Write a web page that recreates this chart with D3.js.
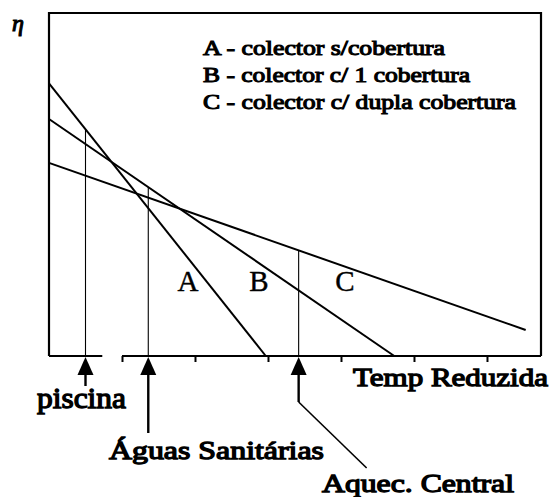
<!DOCTYPE html>
<html>
<head>
<meta charset="utf-8">
<script src="https://cdn.jsdelivr.net/npm/d3@7"></script>
<style>
  html, body { margin: 0; padding: 0; background: #fff; }
  svg { display: block; }
</style>
</head>
<body>
<svg id="chart" width="551" height="497"></svg>
<script>
// Collector efficiency lines: η against reduced temperature
const collectors = ["A", "B", "C"];
const legendLabels = [
  "A - colector s/cobertura",
  "B - colector c/ 1 cobertura",
  "C - colector c/ dupla cobertura"
];
const etaStart = [0.795, 0.691, 0.563];   // η at reduced temperature 0
const tempEnd = [2.97, 4.73, 6.53];       // reduced temperature where each line stops
const etaEnd = [0, 0, 0.076];             // η at that end point

// Typical applications marked on the temperature axis
const applications = ["piscina", "Águas Sanitárias", "Aquec. Central"];
const applicationTemp = [0.50, 1.36, 3.42];
const applicationCollector = [0, 1, 2];   // line each marker reaches up to

const axisTicks = [1, 2, 3, 4, 5, 6];
const axisSegments = [[0, 0.73], [1, 6.74]];   // the axis line is broken between these
const xLabel = "Temp Reduzida";
const yLabel = "η";

const serif = "'Liberation Serif', 'Times New Roman', serif";

// heavy serif text: regular face thickened with an outline stroke
function heavy(sel, w) {
  return sel.attr("font-family", serif).attr("font-weight", "normal")
    .attr("stroke", "#000").attr("stroke-width", w).attr("fill", "#000");
}

const svg = d3.select("#chart").attr("font-family", serif);
const x = d3.scaleLinear().domain([0, 6.74]).range([49, 541]);
const y = d3.scaleLinear().domain([0, 1]).range([356, 13]);

const etaAt = (i, t) => etaStart[i] + (etaEnd[i] - etaStart[i]) * (t / tempEnd[i]);

// frame: left, top and right sides
svg.append("path")
  .attr("d", d3.line()([[x(0), y(0)], [x(0), y(1)], [x(6.74), y(1)], [x(6.74), y(0)]]))
  .attr("fill", "none").attr("stroke", "#000").attr("stroke-width", 2.2);

// broken horizontal axis
svg.selectAll(".seg").data(axisSegments).join("line")
  .attr("x1", d => x(d[0])).attr("x2", d => x(d[1]))
  .attr("y1", y(0)).attr("y2", y(0))
  .attr("stroke", "#000").attr("stroke-width", 2.2);

const axis = d3.axisBottom(x).tickValues(axisTicks).tickSizeInner(6).tickSizeOuter(0).tickFormat("");
const gAxis = svg.append("g").attr("transform", `translate(0,${y(0)})`).call(axis);
gAxis.select(".domain").remove();
gAxis.selectAll(".tick line").attr("stroke", "#000").attr("stroke-width", 2);

// efficiency lines
const line = d3.line().x(d => x(d[0])).y(d => y(d[1]));
svg.selectAll(".eff").data(collectors).join("path")
  .attr("d", (c, i) => line([[0, etaStart[i]], [tempEnd[i], etaEnd[i]]]))
  .attr("fill", "none").attr("stroke", "#000").attr("stroke-width", 2);

// application markers: thin vertical up to the collector line
svg.selectAll(".mark").data(applications).join("line")
  .attr("x1", (d, i) => x(applicationTemp[i])).attr("x2", (d, i) => x(applicationTemp[i]))
  .attr("y1", y(0))
  .attr("y2", (d, i) => y(etaAt(applicationCollector[i], applicationTemp[i])))
  .attr("stroke", "#000").attr("stroke-width", 1.1);

// arrows under the axis
const arrowStemEnd = [386, 433, 402];
applications.forEach((d, i) => {
  const ax = x(applicationTemp[i]);
  svg.append("path")
    .attr("d", `M${ax},${y(0) + 1}L${ax - 8},${y(0) + 19}L${ax + 8},${y(0) + 19}Z`)
    .attr("fill", "#000");
  svg.append("line")
    .attr("x1", ax).attr("x2", ax).attr("y1", y(0) + 18).attr("y2", arrowStemEnd[i])
    .attr("stroke", "#000").attr("stroke-width", 2.4);
});
// leader from the last arrow down to its label
const lastX = x(applicationTemp[2]);
svg.append("line")
  .attr("x1", lastX).attr("y1", arrowStemEnd[2])
  .attr("x2", lastX + 68).attr("y2", 468)
  .attr("stroke", "#000").attr("stroke-width", 1.6);

// application labels
const appLabelPos = [
  { x: 37, y: 408, w: 89, size: 29 },
  { x: 109, y: 459, w: 215, size: 26 },
  { x: 322, y: 492, w: 192, size: 26 }
];
svg.selectAll(".appLabel").data(applications).join("text")
  .call(heavy, 1.3)
  .attr("x", (d, i) => appLabelPos[i].x).attr("y", (d, i) => appLabelPos[i].y)
  .attr("font-size", (d, i) => appLabelPos[i].size)
  .attr("textLength", (d, i) => appLabelPos[i].w)
  .attr("lengthAdjust", "spacingAndGlyphs")
  .text(d => d);

// axis titles
svg.append("text").call(heavy, 1.3)
  .attr("x", 353).attr("y", 386)
  .attr("font-size", 26)
  .attr("textLength", 195).attr("lengthAdjust", "spacingAndGlyphs")
  .text(xLabel);
svg.append("text").call(heavy, 1.1)
  .attr("x", 12).attr("y", 31)
  .attr("font-size", 24).attr("font-style", "italic")
  .text(yLabel);

// legend
const legendEnd = [445, 470, 516];
svg.selectAll(".legend").data(legendLabels).join("text")
  .call(heavy, 1.05)
  .attr("x", 203).attr("y", (d, i) => 55 + i * 27)
  .attr("font-size", 20)
  .attr("textLength", (d, i) => legendEnd[i] - 203)
  .attr("lengthAdjust", "spacingAndGlyphs")
  .text(d => d);

// line letters inside the plot
const letterX = [188, 259, 345];
svg.selectAll(".letter").data(collectors).join("text")
  .attr("font-family", serif)
  .attr("x", (d, i) => letterX[i]).attr("y", 291)
  .attr("text-anchor", "middle")
  .attr("font-size", 29)
  .attr("stroke", "#000").attr("stroke-width", 0.4)
  .text(d => d);
</script>
</body>
</html>
